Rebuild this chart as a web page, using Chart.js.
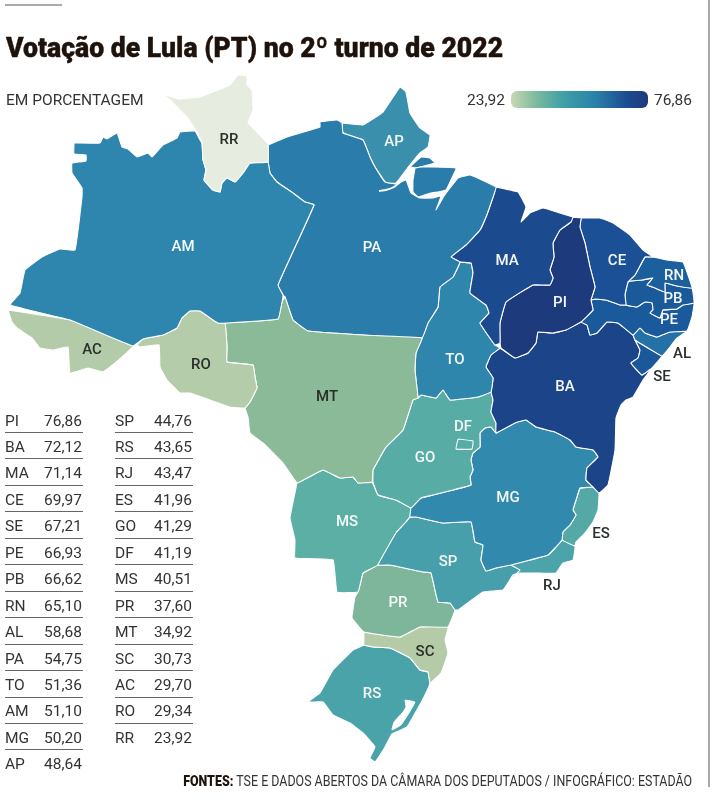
<!DOCTYPE html>
<html lang="pt-BR">
<head>
<meta charset="utf-8">
<title>Votação de Lula (PT) no 2º turno de 2022</title>
<script src="https://cdn.jsdelivr.net/npm/chart.js@4"></script>
<style>
  html, body { margin: 0; padding: 0; background: #fff; }
  #page { position: relative; width: 726px; height: 808px; overflow: hidden; font-family: Roboto, sans-serif; color: #333; }
  #map { position: absolute; left: 0; top: 0; }
  .abs { position: absolute; white-space: nowrap; }
  #rule { left: 5px; top: 4px; width: 57px; height: 2px; background: #aaa; }
  #edge { left: 708px; top: 0; width: 2px; height: 787px; background: #aaa; }
  #title { left: 6px; top: 31px; font-size: 28px; line-height: 34px; font-weight: 900; color: #1d130c; -webkit-text-stroke: .4px #1d130c; transform-origin: left top; transform: scaleX(.95); }
  #unit { left: 6px; top: 91px; font-size: 15.5px; line-height: 18px; }
  .scale { top: 91px; font-size: 15.5px; line-height: 18px; }
  #bar { left: 511px; top: 91px; width: 137px; height: 17px; border-radius: 6px; background: linear-gradient(90deg, #c9d8b2 0%, #7dbb9f 18%, #3fa0a6 38%, #2a80aa 62%, #1c4d90 84%, #1d3a7c 100%); }
  .uf, .val { font-size: 15.5px; line-height: 18px; }
  .line { height: 1px; width: 78px; background: #666; }
  #source { right: 34px; top: 772px; font-size: 14px; line-height: 18px; transform-origin: right top; transform: scaleX(.888); }
  #source b { color: #1d130c; font-weight: 900; }
</style>
</head>
<body>
<div id="page">
  <canvas id="map" width="726" height="808"></canvas>
  <div class="abs" id="rule"></div>
  <div class="abs" id="edge"></div>
  <div class="abs" id="title">Votação de Lula (PT) no 2º turno de 2022</div>
  <div class="abs" id="unit">EM PORCENTAGEM</div>
  <div class="abs scale" id="scaleMin" style="left:467px"></div>
  <div class="abs" id="bar"></div>
  <div class="abs scale" id="scaleMax" style="left:654px"></div>
  <div class="abs" id="source"><b>FONTES:</b> TSE E DADOS ABERTOS DA CÂMARA DOS DEPUTADOS / INFOGRÁFICO: ESTADÃO</div>
</div>
<script>
// ranking, same order as the table on the page
const states = ['PI','BA','MA','CE','SE','PE','PB','RN','AL','PA','TO','AM','MG','AP','SP','RS','RJ','ES','GO','DF','MS','PR','MT','SC','AC','RO','RR'];
const votes = [76.86,72.12,71.14,69.97,67.21,66.93,66.62,65.10,58.68,54.75,51.36,51.10,50.20,48.64,44.76,43.65,43.47,41.96,41.29,41.19,40.51,37.60,34.92,30.73,29.70,29.34,23.92];

// state outlines, in map units (x, y, x, y, ...)
const shapeRR = [163,94,178,99,200,97,213,92,230,85,238,75,247,76,247,85,252,90,253,110,248,123,258,133,268,144,268,162,250,163,243,173,235,182,227,178,222,183,220,192,213,190,204,180,206,170,203,160,202,143,197,132,187,117,177,107,170,100];
const shapeAM = [74,143,100,143,103,137,107,139,117,133,122,147,128,149,137,157,148,153,152,157,163,145,177,138,180,132,195,131,200,140,202,143,203,160,206,170,204,180,213,190,220,192,222,183,227,178,235,182,243,173,250,163,268,162,270,173,277,182,293,193,305,202,314,205,278,285,283,295,282,302,278,319,227,323,218,323,213,320,200,311,190,311,182,318,177,328,163,335,143,339,133,346,70,320,10,305,20,293,25,270,42,257,60,249,75,250,82,197,82,188,72,173,72,163,86,161,86,155,74,154];
const shapeAC = [8,310,70,320,133,346,115,363,103,372,88,368,70,373,68,347,53,350,40,348,32,338,17,328,12,322];
const shapeRO = [137,345,143,339,163,335,177,328,182,318,190,311,200,311,213,320,218,323,225,323,227,347,227,362,253,365,255,377,257,388,250,402,245,408,230,407,210,400,190,393,180,393,167,380,160,367,159,345,140,347];
const shapeMT = [225,323,278,319,282,302,285,297,293,320,308,331,363,335,422,338,416,353,415,370,418,398,413,400,403,430,386,447,373,470,372,482,358,483,353,477,340,478,323,470,307,478,297,483,283,463,263,443,250,433,248,417,245,408,250,402,257,388,255,377,253,365,227,362,227,347];
const shapePA = [268,145,287,137,320,127,320,122,337,120,342,123,343,133,363,140,370,157,375,167,385,182,396,184,406,180,411,193,420,198,433,198,441,196,436,210,444,196,450,188,458,178,470,175,496,187,491,203,486,217,480,230,466,245,451,257,460,262,453,277,440,287,438,307,428,323,422,338,363,335,308,331,293,320,285,297,283,295,278,285,314,205,305,202,293,193,277,182,270,173,268,162];
const shapeMarajo = [415,168,421,167,431,167,456,168,451,180,446,190,438,192,431,193,418,197,413,192,413,180];
const shapeIslet = [410,167,421,157,430,158,435,163,416,168];
const shapeAP = [342,123,363,125,383,112,400,87,406,92,410,113,420,128,430,135,428,147,420,153,406,170,396,183,386,183,375,167,370,157,363,140,343,133];
const shapeMA = [496,187,518,192,526,207,521,222,530,213,543,208,560,213,573,217,571,222,560,230,553,243,554,257,550,270,553,278,550,285,533,285,506,302,500,323,500,343,495,345,483,328,480,323,489,313,486,305,470,293,473,273,471,263,460,262,451,257,466,245,480,230,486,217,491,203];
const shapeTO = [451,257,460,262,471,263,473,273,470,293,486,305,489,313,480,323,483,328,495,345,500,348,491,355,486,367,493,378,491,392,478,397,450,400,443,390,436,398,421,395,418,398,415,370,416,353,422,338,428,323,438,307,440,287,453,277,460,262];
const shapePI = [571,217,581,218,580,227,585,243,590,267,595,287,591,300,593,310,581,322,566,330,553,333,538,332,536,343,528,353,515,358,501,348,500,343,500,323,506,302,533,285,550,285,553,278,550,270,554,257,553,243,560,230,571,222];
const shapeCE = [581,218,600,218,613,223,630,235,643,250,653,257,645,257,635,275,628,282,625,295,626,305,620,305,606,300,595,299,591,300,595,287,590,267,585,243,580,227];
const shapeRN = [645,257,653,257,667,260,683,262,688,275,692,288,677,286,665,283,665,292,655,288,647,285,653,278,642,280,630,281,628,282,635,275];
const shapePB = [630,281,642,280,653,278,647,285,655,288,665,292,665,283,677,286,692,288,694,303,683,305,677,309,663,310,660,318,650,313,653,310,652,303,645,302,637,307,626,305,625,295,628,282];
const shapePE = [595,299,606,300,620,305,626,305,637,307,645,302,652,303,653,310,650,313,660,318,663,310,677,309,683,305,694,303,692,317,687,331,670,332,657,337,645,333,640,328,633,335,618,323,607,322,597,333,590,335,587,325,581,322,593,310,591,300];
const shapeAL = [633,335,640,328,645,333,657,337,670,332,687,331,677,338,670,347,662,356,648,348,635,340];
const shapeSE = [635,340,648,348,662,356,652,368,642,375,635,368,631,363,638,358,640,350];
const shapeBA = [500,348,515,358,528,353,536,343,538,332,553,333,566,330,581,322,587,325,590,335,597,333,607,322,618,323,633,335,635,340,640,350,638,358,631,363,635,368,642,375,652,368,643,380,633,397,626,400,621,405,616,418,615,450,608,485,599,493,593,487,586,480,587,468,598,457,593,450,576,447,570,440,555,432,536,427,526,420,515,423,496,433,496,423,491,412,493,400,491,392,493,378,486,367,491,355];
const shapeGO = [418,398,421,395,436,398,443,390,450,400,478,397,491,392,493,400,491,412,496,423,496,433,491,427,485,428,480,433,480,447,473,453,471,460,473,470,470,477,471,485,453,490,433,495,421,498,411,508,396,500,378,495,373,482,373,470,386,447,403,430,413,400];
const shapeDF = [458,439,473,441,472,449,456,449];
const shapeMG = [496,433,515,423,526,420,536,427,555,432,570,440,576,447,593,450,598,457,587,468,586,480,593,487,580,488,576,500,573,510,576,515,570,525,563,532,562,540,555,548,548,555,530,560,511,565,496,568,486,571,481,560,483,545,475,542,471,522,443,523,416,517,410,517,411,508,421,498,433,495,453,490,471,485,470,477,473,470,471,460,473,453,480,447,480,433,485,428,491,427];
const shapeES = [580,488,593,487,599,493,598,510,593,522,585,533,576,542,575,546,562,540,563,532,570,525,576,515,573,510,576,500];
const shapeRJ = [562,540,575,546,573,560,563,563,556,573,536,573,520,573,513,575,510,580,520,570,511,565,530,560,548,555,555,548];
const shapeSP = [410,517,416,517,443,523,471,522,475,542,483,545,481,560,486,571,496,568,511,565,520,570,510,580,503,590,483,592,458,610,455,610,450,603,438,602,431,573,423,572,390,565,378,565,396,533,406,522];
const shapeMS = [297,483,307,478,323,470,340,478,353,477,358,483,372,482,378,495,396,500,411,508,410,517,406,522,396,533,378,565,363,573,358,592,337,592,333,560,295,558,295,540,290,518];
const shapePR = [363,573,378,565,390,565,423,572,431,573,438,602,450,603,455,610,448,627,420,627,400,637,364,632,352,618,355,597,358,592];
const shapeSC = [364,632,400,637,420,627,448,627,445,640,448,653,441,673,430,683,428,672,420,670,410,658,390,648,373,647,364,645];
const shapeRS = [364,645,373,647,390,648,410,658,420,670,428,672,430,683,425,695,418,708,407,727,392,734,385,747,375,762,370,758,375,747,363,733,350,723,333,715,323,702,308,702,320,693,333,670,353,650];
const shapeLagoon = [405,700,415,702,409,713,401,725,392,730,394,722,403,712,406,707];
const riverMouth = [379,191,386,190,394,187,404,179];

const shapes = [
  ['DF', shapeDF], ['RR', shapeRR], ['AM', shapeAM], ['AC', shapeAC], ['RO', shapeRO], ['MT', shapeMT],
  ['PA', shapePA], ['PA', shapeMarajo], ['PA', shapeIslet], ['AP', shapeAP], ['MA', shapeMA], ['TO', shapeTO],
  ['PI', shapePI], ['CE', shapeCE], ['RN', shapeRN], ['PB', shapePB], ['PE', shapePE], ['AL', shapeAL], ['SE', shapeSE],
  ['BA', shapeBA], ['GO', shapeGO], ['MG', shapeMG], ['ES', shapeES], ['RJ', shapeRJ], ['SP', shapeSP],
  ['MS', shapeMS], ['PR', shapePR], ['SC', shapeSC], ['RS', shapeRS],
];

// where the state codes sit on the map
const labels = [
  ['RR',229,140,1],['AM',183,247,0],['AC',92,350,1],['RO',201,365,1],['MT',327,397,1],['PA',372,248,0],['AP',394,142,0],
  ['MA',507,261,0],['TO',455,360,0],['PI',560,303,0],['CE',617,261,0],['RN',674,276,0],['PB',673,299,0],['PE',669,320,0],
  ['AL',682,354,1],['SE',662,377,1],['BA',565,387,0],['GO',425,458,0],['DF',463,427,0],['MG',508,498,0],['ES',601,534,1],
  ['RJ',552,586,1],['SP',448,562,0],['MS',347,522,0],['PR',398,603,0],['SC',425,652,1],['RS',372,694,0],
];

const colorStops = [
  [23.92,[230,236,223]],[29.5,[180,203,169]],[30.73,[181,202,166]],[34.92,[139,186,152]],[37.6,[125,182,155]],[40.5,[92,175,165]],
  [43.6,[74,163,169]],[48.64,[58,144,172]],[50.5,[47,136,174]],[54.75,[42,125,171]],[58.68,[35,113,166]],
  [66,[26,92,156]],[70,[27,80,150]],[72.12,[28,69,137]],[76.86,[29,58,124]],
];

function colorFor(value) {
  let i = 1;
  while (i < colorStops.length - 1 && colorStops[i][0] < value) i++;
  const [v0, c0] = colorStops[i - 1], [v1, c1] = colorStops[i];
  const t = Math.min(1, Math.max(0, (value - v0) / (v1 - v0)));
  return 'rgb(' + c0.map((c, k) => Math.round(c + (c1[k] - c) * t)).join(',') + ')';
}

function toPoints(flat, closed = true) {
  const pts = [];
  for (let i = 0; i < flat.length; i += 2) pts.push({ x: flat[i], y: flat[i + 1] });
  if (closed) pts.push({ x: flat[0], y: flat[1] });
  return pts;
}

const datasets = [
  { data: toPoints(shapeLagoon), backgroundColor: '#fff', borderColor: '#fff', borderWidth: 1, fill: 'shape' },
  { data: toPoints(riverMouth, false), borderColor: '#fff', borderWidth: 2, fill: false },
].concat(shapes.map(([uf, flat]) => ({
  label: uf,
  data: toPoints(flat),
  backgroundColor: colorFor(votes[states.indexOf(uf)]),
  borderColor: '#fff',
  borderWidth: 1.1,
  fill: 'shape',
})));

const stateLabels = {
  id: 'stateLabels',
  afterDatasetsDraw(chart) {
    const { ctx, scales: { x, y } } = chart;
    ctx.save();
    ctx.font = '500 15px Roboto, sans-serif';
    ctx.textAlign = 'center';
    ctx.textBaseline = 'middle';
    labels.forEach(([text, lx, ly, dark]) => {
      ctx.fillStyle = dark ? '#2a2f2a' : '#f4f8f8';
      ctx.fillText(text, x.getPixelForValue(lx), y.getPixelForValue(ly));
    });
    ctx.restore();
  },
};

new Chart(document.getElementById('map'), {
  type: 'scatter',
  data: { datasets },
  plugins: [stateLabels],
  options: {
    responsive: false,
    animation: false,
    layout: { padding: 0 },
    elements: { point: { radius: 0, hoverRadius: 0 }, line: { tension: 0.08 } },
    datasets: { scatter: { showLine: true, pointRadius: 0 } },
    plugins: { legend: { display: false }, tooltip: { enabled: false } },
    scales: {
      x: { type: 'linear', min: 0, max: 726, display: false },
      y: { type: 'linear', min: 0, max: 808, reverse: true, display: false },
    },
  },
});

// ranking table and legend ends
const fmt = v => v.toFixed(2).replace('.', ',');
const page = document.getElementById('page');
function addDiv(cls, text, left, top) {
  const d = document.createElement('div');
  d.className = 'abs ' + cls;
  if (text) d.textContent = text;
  d.style.left = left + 'px';
  d.style.top = top + 'px';
  page.appendChild(d);
}
states.forEach((uf, i) => {
  const col = i < 14 ? 0 : 1;
  const row = col ? i - 14 : i;
  const colLeft = col ? 115 : 5;
  const top = 411.5 + row * 26.45;
  addDiv('uf', uf, colLeft, top);
  addDiv('val', fmt(votes[i]), colLeft + 39, top);
  if (i !== 13 && i !== states.length - 1) addDiv('line', '', colLeft, top + 20.5);
});
document.getElementById('scaleMin').textContent = fmt(Math.min(...votes));
document.getElementById('scaleMax').textContent = fmt(Math.max(...votes));
</script>
</body>
</html>
